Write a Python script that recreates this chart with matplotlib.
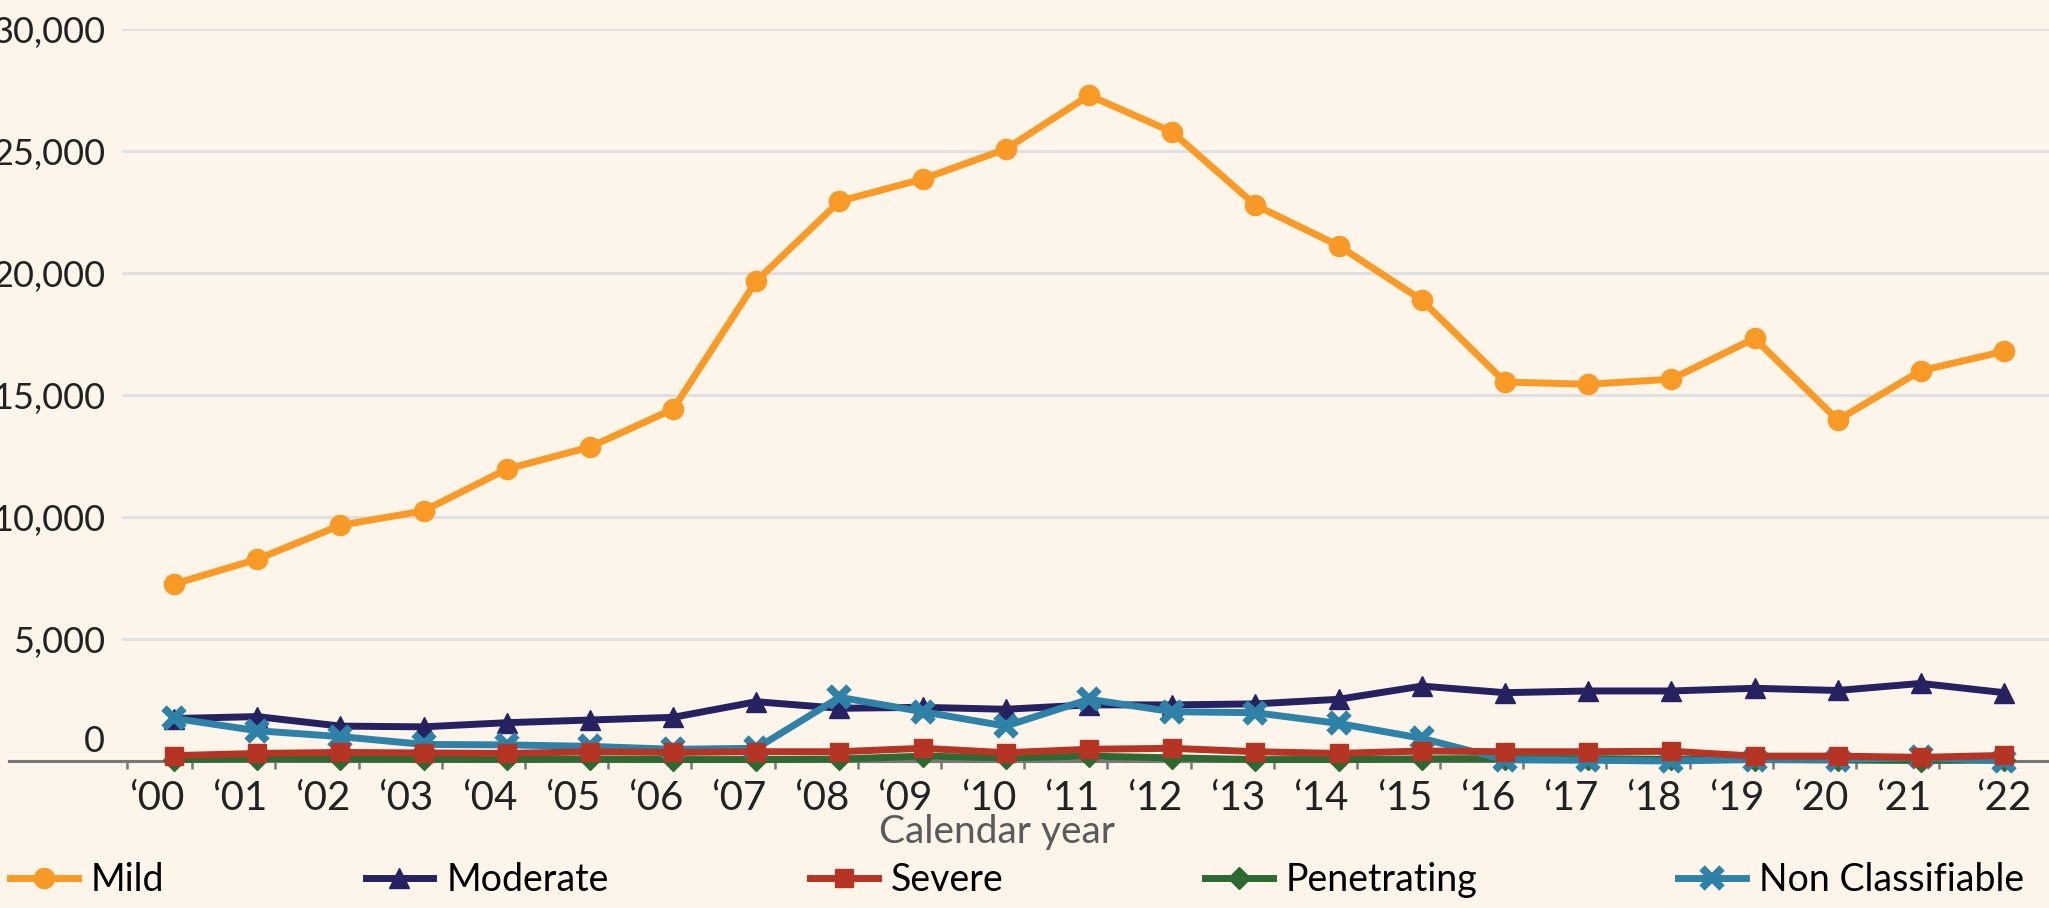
import matplotlib
matplotlib.use('Agg')
import matplotlib.pyplot as plt
import matplotlib.transforms as mtransforms
import numpy as np

years = ['\u201800', '\u201801', '\u201802', '\u201803', '\u201804', '\u201805', '\u201806', '\u201807',
         '\u201808', '\u201809', '\u201810', '\u201811', '\u201812', '\u201813', '\u201814', '\u201815',
         '\u201816', '\u201817', '\u201818', '\u201819', '\u201820', '\u201821', '\u201822']

mild = [7250, 8270, 9660, 10250, 11960, 12870, 14420, 19670, 22940, 23850, 25080, 27280,
        25780, 22780, 21120, 18890, 15530, 15440, 15650, 17320, 13975, 15995, 16790]
moderate = [1740, 1820, 1430, 1400, 1570, 1680, 1790, 2430, 2160, 2200, 2120, 2300,
            2300, 2340, 2530, 3070, 2800, 2870, 2870, 2980, 2890, 3180, 2800]
severe = [220, 310, 350, 330, 310, 380, 350, 380, 380, 520, 340, 480,
          520, 380, 310, 410, 380, 380, 400, 200, 200, 150, 230]
penetrating = [60, 100, 80, 80, 70, 80, 60, 60, 80, 200, 130, 200,
               130, 60, 60, 90, 100, 100, 70, 60, 40, 20, 40]
non_class = [1750, 1240, 1000, 680, 660, 600, 480, 520, 2610, 2020, 1430, 2530,
             2020, 1980, 1540, 930, 50, 30, 0, 60, 60, 150, 0]

bg = '#FDF5EA'
plt.rcParams['font.family'] = ['Lato', 'DejaVu Sans']

fig = plt.figure(figsize=(20.49, 9.08), dpi=100, facecolor=bg)
ax = fig.add_axes([122 / 2049, 1 - 761 / 908, 1 - 122 / 2049, (761 - 29) / 908])
ax.set_facecolor(bg)

x = np.arange(len(years))
lw = 5
common = dict(linewidth=lw, clip_on=False)
ax.plot(x, mild, color='#F99A27', marker='o', markersize=14.5, label='Mild', zorder=3, **common)
ax.plot(x, moderate, color='#262261', marker='^', markersize=14, label='Moderate', zorder=4, **common)
ax.plot(x, severe, color='#B63424', marker='s', markersize=13.5, label='Severe', zorder=7, **common)
ax.plot(x, penetrating, color='#2E6931', marker='D', markersize=11, label='Penetrating', zorder=5, **common)
ax.plot(x, non_class, color='#2E82A8', marker='x', markersize=14, markeredgewidth=5.5,
        label='Non Classifiable', zorder=6, **common)

ax.set_xlim(-0.625, 22.54)
ax.set_ylim(0, 30000)

# y axis
ax.set_yticks(range(0, 30001, 5000))
ax.set_yticklabels([f'{v:,}' for v in range(0, 30001, 5000)])
ax.tick_params(axis='y', length=0, pad=12, labelsize=26, labelcolor='#222222')
for v in range(5000, 30001, 5000):
    ax.axhline(v, color='#DFE0E4', linewidth=2.2, zorder=1)

# x axis: labels sit a little left of the points, tick marks a little right
label_pos = x - 0.21
label_pos[-1] = x[-1]
ax.set_xticks(label_pos)
ax.set_xticklabels(years)
ax.tick_params(axis='x', length=0, pad=14, labelsize=29, labelcolor='#222222')
ax.set_xticks([-0.565] + list(x[:-1] + 0.22), minor=True)
ax.tick_params(axis='x', which='minor', length=6, width=1.8, color='#777777', direction='out')

# the "0" label sits above the axis line in the original
t0 = ax.yaxis.get_major_ticks()[0].label1
t0.set_transform(t0.get_transform() + mtransforms.ScaledTranslation(0, 0.22, fig.dpi_scale_trans))

for s in ['top', 'right', 'left']:
    ax.spines[s].set_visible(False)
ax.spines['bottom'].set_color('#777777')
ax.spines['bottom'].set_linewidth(2.2)
ax.axhline(0, xmin=(9 - 122) / 1927, xmax=0, color='#777777', linewidth=2.2, clip_on=False)

ax.set_xlabel('Calendar year', fontsize=28, color='#5A5A5A')
ax.xaxis.set_label_coords((997 - 122) / 1927, -0.072)

fig.legend(loc='center left', bbox_to_anchor=(10 / 2049, 1 - 880 / 908), ncol=5, frameon=False,
           fontsize=27, handlelength=1.81, handletextpad=0.35, columnspacing=5.36,
           borderpad=0, borderaxespad=0)

fig.savefig('out.png', dpi=100, facecolor=bg)
